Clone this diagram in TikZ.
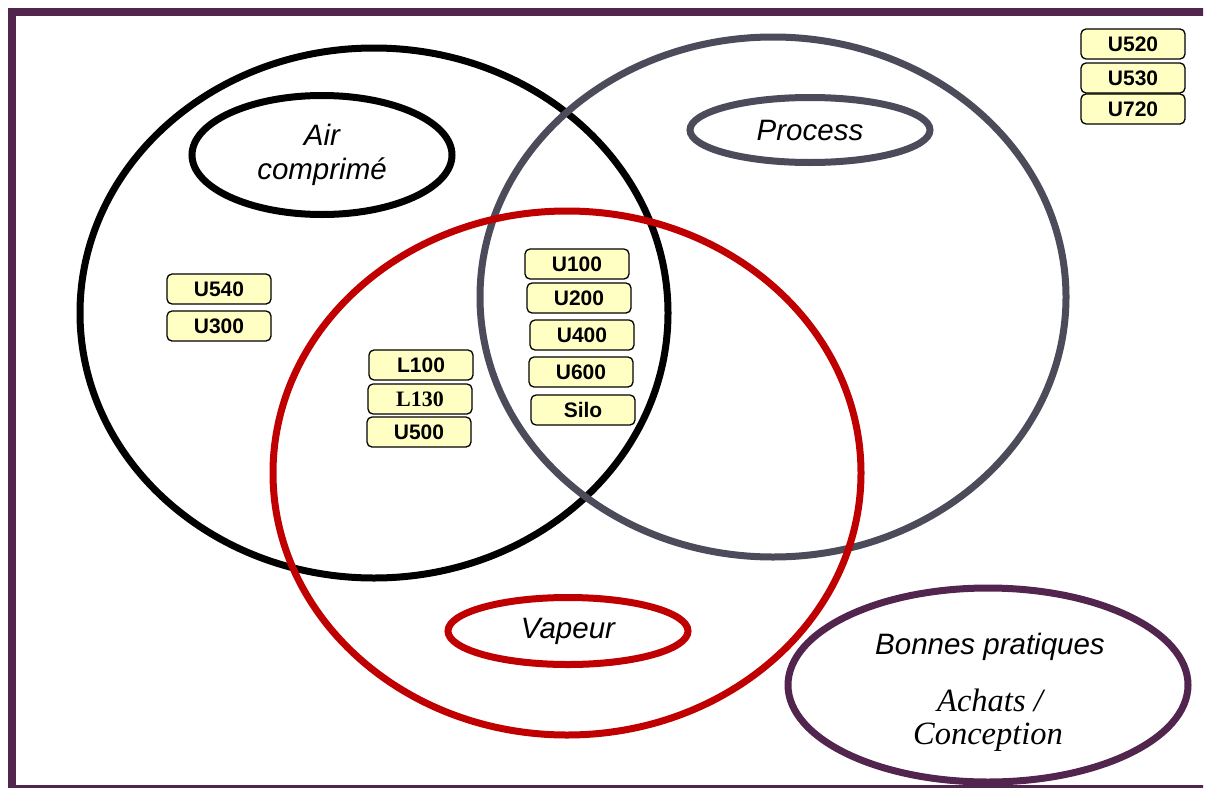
\documentclass[tikz,border=0pt]{standalone}
\usepackage{fontspec}
\setmainfont{Liberation Sans}
\newfontfamily\seriffont{Liberation Serif}
\usepackage{tikz}
\usetikzlibrary{shapes.geometric}
\definecolor{framepurple}{HTML}{52254F}
\definecolor{ringgrey}{HTML}{4B4B5A}
\definecolor{ringred}{HTML}{C00000}
\definecolor{boxyellow}{HTML}{FFFFC4}
\tikzset{ring/.style={line width=7pt},
    tag/.style={ellipse,line width=7pt,inner sep=0pt,font=\fontsize{29.5}{34}\selectfont\itshape,align=center},
    unit/.style={draw,rounded corners=5pt,fill=boxyellow,line width=1.3pt,minimum width=104pt,minimum height=30pt,inner sep=0pt,font=\fontsize{21}{22}\selectfont\bfseries},
    serifunit/.style={unit,font=\fontsize{22}{22}\selectfont\seriffont\bfseries},
    note/.style={font=\fontsize{32.5}{36}\selectfont\seriffont\itshape}}

\begin{document}
\begin{tikzpicture}[x=1pt,y=-1pt]
\useasboundingbox (0,0) rectangle (1207,787);
\begin{scope}
\clip (0,0) rectangle (1203,787);
\draw[framepurple,line width=8pt] (12,12) rectangle (1215,789);
\end{scope}
% the three sets
\draw[ring,black] (374,313) ellipse [x radius=294,y radius=265];
\draw[ring,ringgrey] (773,297) ellipse [x radius=293,y radius=260];
\draw[ring,ringred] (567,473) ellipse [x radius=294,y radius=262];
% labels
\node[tag,draw=black,minimum width=260pt,minimum height=119pt] (air) at (322,155) {Air\\comprim\'e};
\node[tag,draw=ringgrey,minimum width=240pt,minimum height=65pt] (process) at (810,130) {Process};
\node[tag,draw=ringred,minimum width=240pt,minimum height=67pt] (vapeur) at (568,631) {Vapeur};
\node[ellipse,draw=framepurple,line width=7pt,minimum width=400pt,minimum height=194pt] (bonnes) at (988,685) {};
\node[font=\fontsize{29.5}{34}\selectfont\itshape] (pratiques) at (990,647) {Bonnes pratiques};
\node[note] (achats) at (990,700) {Achats /};
\node[note] (conception) at (988,737) {Conception};
% units
\node[unit] (u540) at (219,289) {U540};
\node[unit] (u300) at (219,326) {U300};
\node[unit] (l100) at (421,365) {L100};
\node[serifunit] (l130) at (420,399) {L130};
\node[unit] (u500) at (419,432) {U500};
\node[unit] (u100) at (577,264) {U100};
\node[unit] (u200) at (579,298) {U200};
\node[unit] (u400) at (582,335) {U400};
\node[unit] (u600) at (581,372) {U600};
\node[unit] (silo) at (583,410) {Silo};
\node[unit] (u520) at (1133,44) {U520};
\node[unit] (u530) at (1133,78) {U530};
\node[unit] (u720) at (1133,109) {U720};
\end{tikzpicture}
\end{document}
